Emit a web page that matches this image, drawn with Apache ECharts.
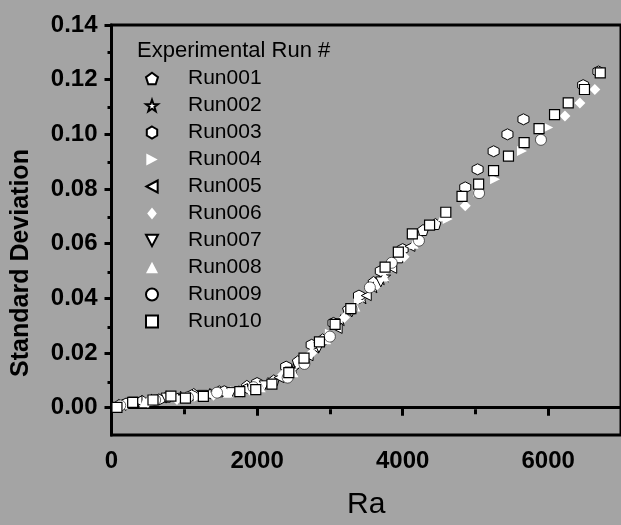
<!DOCTYPE html>
<html>
<head>
<meta charset="utf-8">
<script src="https://cdn.jsdelivr.net/npm/echarts@6/dist/echarts.min.js"></script>
<style>
html,body{margin:0;padding:0;background:#a4a4a4;}
#chart{width:621px;height:525px;}
</style>
</head>
<body>
<div id="chart"></div>
<script>
// ---- data (Ra, standard deviation) ----
const seriesNames = ['Run001','Run002','Run003','Run004','Run005','Run006','Run007','Run008','Run009','Run010'];
const run001 = [[100,0.001],[420,0.0025],[760,0.004],[1130,0.005],[1480,0.006],[1860,0.008],[2230,0.010],[2560,0.017],[2900,0.025],[3250,0.036],[3600,0.046],[3950,0.055],[4280,0.065],[4450,0.0672]];
const run002 = [[150,0.001],[550,0.003],[950,0.004],[1350,0.005],[1750,0.006],[2150,0.009],[2500,0.014],[2800,0.022],[3150,0.032],[3450,0.040],[3600,0.044],[3700,0.047],[3760,0.048]];
const run003 = [[200,0.0015],[650,0.003],[1100,0.0045],[1550,0.006],[2000,0.009],[2400,0.015],[2750,0.023],[3050,0.031],[3400,0.041],[3700,0.050],[4000,0.058],[4860,0.0806],[5030,0.0872],[5250,0.0938],[5440,0.100],[5660,0.1055],[6480,0.118],[6690,0.123]];
const run004 = [[250,0.001],[700,0.003],[1200,0.004],[1700,0.006],[2200,0.009],[2600,0.016],[3000,0.027],[3400,0.039],[3800,0.050],[4220,0.061],[4620,0.069],[5040,0.079],[5270,0.0836],[5640,0.0939],[6000,0.1025]];
const run005 = [[350,0.0025],[850,0.0035],[1300,0.005],[1800,0.007],[2300,0.011],[2700,0.019],[3100,0.029],[3500,0.041],[3850,0.051],[4100,0.059]];
const run006 = [[80,0.0005],[500,0.002],[900,0.003],[1400,0.0045],[1900,0.0065],[2350,0.012],[2750,0.020],[3200,0.033],[3650,0.045],[4020,0.0552],[4860,0.0739],[6230,0.1067],[6435,0.1115],[6640,0.1164]];
const run007 = [[300,0.002],[750,0.0035],[1250,0.0045],[1650,0.0055],[2100,0.008],[2450,0.013],[2850,0.022],[3300,0.035],[3700,0.046]];
const run008 = [[450,0.002],[1000,0.004],[1600,0.0055],[2050,0.0075],[2500,0.013],[2950,0.025],[3350,0.037],[3750,0.048],[4150,0.060],[4550,0.070]];
const run009 = [[120,0.0008],[600,0.0028],[1050,0.0038],[1450,0.0055],[1950,0.0075],[2420,0.011],[2650,0.016],[3000,0.026],[3300,0.036],[3550,0.044],[3850,0.053],[4224,0.0611],[5050,0.0785],[5900,0.098]];
const run010 = [[75,0.0001],[291,0.0019],[570,0.0028],[816,0.0042],[1016,0.0035],[1262,0.0041],[1763,0.0059],[1982,0.0066],[2204,0.0086],[2436,0.0128],[2645,0.0181],[2857,0.0241],[3072,0.0305],[3288,0.0362],[3759,0.0514],[3941,0.0569],[4133,0.0636],[4370,0.0668],[4593,0.0715],[4816,0.0773],[5044,0.0818],[5249,0.0867],[5454,0.0920],[5669,0.0970],[5874,0.1021],[6087,0.1072],[6275,0.1115],[6498,0.1164],[6715,0.1225]];
const allRuns = [run001,run002,run003,run004,run005,run006,run007,run008,run009,run010];

// ---- axis ticks ----
const xMajorTicks = [0,2000,4000,6000];
const xMinorTicks = [1000,3000,5000];
const yMajorTicks = [0,0.02,0.04,0.06,0.08,0.10,0.12,0.14];
const yMinorTicks = [0.01,0.03,0.05,0.07,0.09,0.11,0.13];
const xRange = [0,7000];
const yRange = [-0.01,0.14];

// ---- styles ----
const symbols = [
  'path://M0,-10 L9.51,-3.09 L5.88,8.09 L-5.88,8.09 L-9.51,-3.09 Z',
  'path://M0,-10 L2.35,-3.24 L9.51,-3.09 L3.8,1.24 L5.88,8.09 L0,4 L-5.88,8.09 L-3.8,1.24 L-9.51,-3.09 L-2.35,-3.24 Z',
  'path://M0,-10 L8.66,-5 L8.66,5 L0,10 L-8.66,5 L-8.66,-5 Z',
  'path://M-8,-9 L9,0 L-8,9 Z',
  'path://M8,-9 L-9,0 L8,9 Z',
  'path://M0,-10 L8,0 L0,10 L-8,0 Z',
  'path://M-9,-8 L9,-8 L0,9 Z',
  'path://M0,-9 L9,8 L-9,8 Z',
  'path://M0,-10 A10,10 0 1,1 0,10 A10,10 0 1,1 0,-10 Z',
  'path://M-10,-10 L10,-10 L10,10 L-10,10 Z'
];
const borderW = [1,1,1,0,1,0,1,0,0.6,1.2];
const symSize = [11,11,11,10,10,11,10,10,11,10];

const chart = echarts.init(document.getElementById('chart'), null, {renderer:'canvas'});
const font = '"Liberation Sans", Arial, sans-serif';
const gridRect = {left:111.5, top:25, right:-2.2, bottom:88.3};

const option = {
  backgroundColor:'#a4a4a4',
  animation:false,
  title:{
    text:'Experimental Run #', left:137, top:40, padding:0,
    textStyle:{fontFamily:font, fontSize:22, fontWeight:'normal', color:'#000'}
  },
  legend:{
    orient:'vertical', left:145, top:68, padding:0,
    itemWidth:12, itemHeight:12, itemGap:6,
    textStyle:{fontFamily:font, fontSize:21, color:'#000', lineHeight:21, padding:[0,0,0,25]},
    data: seriesNames.map((n,i)=>({name:n, icon:symbols[i]}))
  },
  graphic:[{
    type:'text', x:21, y:263, rotation:Math.PI/2,
    style:{text:'Standard Deviation', font:'bold 25px '+font, fill:'#000', textAlign:'center', textVerticalAlign:'middle'}
  }],
  grid:[
    Object.assign({show:true, borderColor:'#000', borderWidth:3, backgroundColor:'transparent'}, gridRect),
    Object.assign({show:false}, gridRect)
  ],
  xAxis:[{
    gridIndex:0, type:'value', min:xRange[0], max:xRange[1],
    name:'Ra', nameLocation:'middle', nameGap:55,
    nameTextStyle:{fontFamily:font, fontSize:30, color:'#000'},
    axisLine:{show:true, lineStyle:{color:'#000', width:3}},
    axisTick:{show:true, inside:false, length:8, lineStyle:{color:'#000', width:3}, customValues:xMajorTicks},
    axisLabel:{show:true, margin:14, fontFamily:font, fontSize:24, fontWeight:'bold', color:'#000', customValues:xMajorTicks,
      formatter:v=>String(v)},
    splitLine:{show:false}
  },{
    gridIndex:1, type:'value', min:xRange[0], max:xRange[1],
    axisLine:{show:false},
    axisTick:{show:true, length:5, lineStyle:{color:'#000', width:3}, customValues:xMinorTicks},
    axisLabel:{show:false},
    splitLine:{show:false}
  }],
  yAxis:[{
    gridIndex:0, type:'value', min:yRange[0], max:yRange[1],
    axisLine:{show:true, lineStyle:{color:'#000', width:3}},
    axisTick:{show:true, length:7, lineStyle:{color:'#000', width:3}, customValues:yMajorTicks},
    axisLabel:{show:true, margin:14, fontFamily:font, fontSize:24, fontWeight:'bold', color:'#000', customValues:yMajorTicks,
      formatter:v=>v.toFixed(2)},
    splitLine:{show:false}
  },{
    gridIndex:1, type:'value', min:yRange[0], max:yRange[1],
    axisLine:{show:false},
    axisTick:{show:true, length:4, lineStyle:{color:'#000', width:3}, customValues:yMinorTicks},
    axisLabel:{show:false},
    splitLine:{show:false}
  }],
  series: seriesNames.map((n,i)=>({
    name:n, type:'scatter', xAxisIndex:0, yAxisIndex:0,
    symbol:symbols[i], symbolSize:symSize[i],
    itemStyle:{color:'#ffffff', borderColor:'#000', borderWidth:borderW[i], opacity:1},
    data: allRuns[i]
  }))
};
chart.setOption(option);
</script>
</body>
</html>
